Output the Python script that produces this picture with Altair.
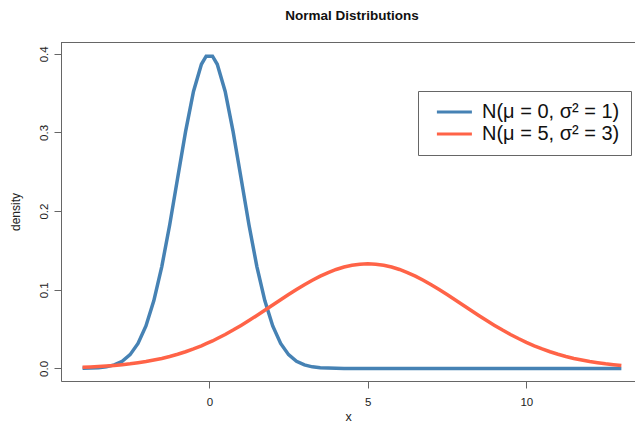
import altair as alt
import pandas as pd

# x grid (-4 .. 13)
x_vals = [-4, -3.75, -3.5, -3.25, -3, -2.75, -2.5, -2.25, -2, -1.75, -1.5, -1.25, -1,
          -0.75, -0.5, -0.25, -0.1, 0.1, 0.25, 0.5, 0.75, 1, 1.25, 1.5, 1.75, 2, 2.25,
          2.5, 2.75, 3, 3.25, 3.5, 3.75, 4, 4.25, 4.5, 4.75, 5, 5.25, 5.5, 5.75, 6,
          6.25, 6.5, 6.75, 7, 7.25, 7.5, 7.75, 8, 8.25, 8.5, 8.75, 9, 9.25, 9.5, 9.75,
          10, 10.25, 10.5, 10.75, 11, 11.25, 11.5, 11.75, 12, 12.25, 12.5, 12.75, 13]

# density of first curve (peak ~0.399 at 0)
blue_vals = [0.0001, 0.0004, 0.0009, 0.0020, 0.0044, 0.0091, 0.0175, 0.0317, 0.0540,
             0.0863, 0.1295, 0.1826, 0.2420, 0.3011, 0.3521, 0.3867, 0.3970, 0.3970,
             0.3867, 0.3521, 0.3011, 0.2420, 0.1826, 0.1295, 0.0863, 0.0540, 0.0317,
             0.0175, 0.0091, 0.0044, 0.0020, 0.0009, 0.0004, 0.0001, 0.0000, 0.0000,
             0.0000, 0.0000, 0.0000, 0.0000, 0.0000, 0.0000, 0.0000, 0.0000, 0.0000,
             0.0000, 0.0000, 0.0000, 0.0000, 0.0000, 0.0000, 0.0000, 0.0000, 0.0000,
             0.0000, 0.0000, 0.0000, 0.0000, 0.0000, 0.0000, 0.0000, 0.0000, 0.0000,
             0.0000, 0.0000, 0.0000, 0.0000, 0.0000, 0.0000, 0.0000]

# density of second curve (peak ~0.133 at 5)
red_vals = [0.0015, 0.0019, 0.0024, 0.0030, 0.0038, 0.0047, 0.0058, 0.0072, 0.0087,
            0.0106, 0.0127, 0.0152, 0.0180, 0.0212, 0.0248, 0.0288, 0.0314, 0.0349,
            0.0380, 0.0432, 0.0488, 0.0547, 0.0609, 0.0673, 0.0740, 0.0807, 0.0874,
            0.0940, 0.1004, 0.1065, 0.1122, 0.1174, 0.1219, 0.1258, 0.1289, 0.1311,
            0.1325, 0.1330, 0.1325, 0.1311, 0.1289, 0.1258, 0.1219, 0.1174, 0.1122,
            0.1065, 0.1004, 0.0940, 0.0874, 0.0807, 0.0740, 0.0673, 0.0609, 0.0547,
            0.0488, 0.0432, 0.0380, 0.0332, 0.0288, 0.0248, 0.0212, 0.0180, 0.0152,
            0.0127, 0.0106, 0.0087, 0.0072, 0.0058, 0.0047, 0.0038]

series_names = ["N(μ = 0, σ² = 1)", "N(μ = 5, σ² = 3)"]
series_colors = ["#4682B4", "#FF6347"]
x_ticks = [0, 5, 10]
y_ticks = [0.0, 0.1, 0.2, 0.3, 0.4]

rows = []
for name, vals in zip(series_names, [blue_vals, red_vals]):
    for i, (xv, yv) in enumerate(zip(x_vals, vals)):
        rows.append({"x": xv, "density": yv, "series": name, "order": i})
df = pd.DataFrame(rows)

FONT = "Liberation Sans"
FRAME = "#666"
TEXT = "#222"

lines = alt.Chart(df).mark_line(strokeWidth=3.5, clip=True).encode(
    x=alt.X("x:Q",
            scale=alt.Scale(domain=[-4.68, 13.43], nice=False, zero=False),
            axis=alt.Axis(values=x_ticks, title="x", grid=False, domain=True,
                          domainColor=FRAME, domainWidth=1,
                          tickSize=7, tickColor=FRAME, labelPadding=8,
                          labelFontSize=11.5, titleFontSize=12.5, titleFontWeight="normal",
                          titlePadding=3, labelColor=TEXT, titleColor=TEXT)),
    y=alt.Y("density:Q",
            scale=alt.Scale(domain=[-0.016, 0.415], nice=False, zero=False),
            axis=alt.Axis(values=y_ticks, format=".1f", title="density", grid=False,
                          domain=True, domainColor=FRAME, domainWidth=1,
                          tickSize=7, tickColor=FRAME, labelAngle=270,
                          labelAlign="center", labelBaseline="bottom", labelPadding=5,
                          labelFontSize=11.5, titleFontSize=12, titleFontWeight="normal",
                          titlePadding=16, labelColor=TEXT, titleColor=TEXT)),
    color=alt.Color("series:N",
                    scale=alt.Scale(domain=series_names, range=series_colors),
                    legend=alt.Legend(title=None, orient="none", legendX=357, legendY=49,
                                      symbolType="M-0.3,0H4.7", symbolSize=196,
                                      symbolStrokeWidth=3, labelFontSize=20,
                                      labelOffset=33, rowPadding=2, padding=11,
                                      strokeColor=FRAME, fillColor="white",
                                      cornerRadius=0, labelColor="#111", labelFont=FONT)),
    order="order:Q",
)

# top edge of the plot frame (one rule spanning the full plot width)
edge_df = pd.DataFrame({"edge": ["top"]})
top_edge = alt.Chart(edge_df).mark_rule(color=FRAME, strokeWidth=1).encode(
    y=alt.value(0.5))

chart = alt.layer(top_edge, lines).properties(
    width=574, height=339,
    title=alt.TitleParams("Normal Distributions", fontSize=13.5, fontWeight="bold",
                          font=FONT, anchor="middle", offset=20, dx=4, color="#111"),
    autosize=alt.AutoSizeParams(type="none"),
    padding={"left": 53, "top": 34, "right": 0, "bottom": 43},
).configure_view(
    stroke=None
).configure(
    font=FONT
).configure_axis(
    labelFont=FONT, titleFont=FONT, labelColor=TEXT, titleColor=TEXT
)

chart.save("out.html", embed_options={"renderer": "svg", "actions": False})
